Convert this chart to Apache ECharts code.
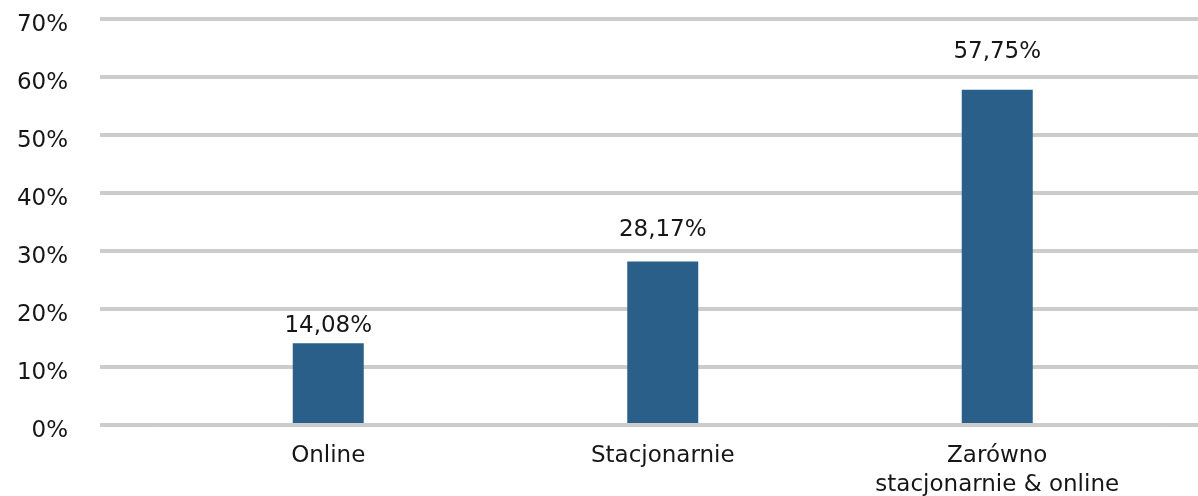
<!DOCTYPE html>
<html>
<head>
<meta charset="utf-8">
<script src="https://cdn.jsdelivr.net/npm/echarts@6/dist/echarts.min.js"></script>
<style>
  html, body { margin: 0; padding: 0; background: #ffffff; }
  #chart { width: 1198px; height: 496px; }
</style>
</head>
<body>
<div id="chart"></div>
<script>
// Share of respondents by form of participation
const categories = ['Online', 'Stacjonarnie', 'Zarówno\nstacjonarnie & online'];
const values = [14.08, 28.17, 57.75];
const yTicks = { min: 0, max: 70, interval: 10 };

// gap between each bar top and its value label (px)
const labelGaps = [6, 20, 26];

const FONT = 'DejaVu Sans';
const TEXT = '#161616';
const GRID_GREY = '#cccccc';
const BAR_BLUE = '#2a5f8a';
const FONT_SIZE = 23;

const pct = v => String(v).replace('.', ',') + '%';

const chart = echarts.init(document.getElementById('chart'), null, { renderer: 'canvas' });

chart.setOption({
  animation: false,
  backgroundColor: '#ffffff',
  textStyle: { fontFamily: FONT, color: TEXT },
  grid: [
    // wide grid carrying the horizontal rules and percentage ticks
    { left: 100, right: 0, top: 18.7, bottom: 71, outerBoundsMode: 'none', containLabel: false },
    // narrower grid holding the bars and category labels
    { left: 161, right: 33.5, top: 18.7, bottom: 71, outerBoundsMode: 'none', containLabel: false }
  ],
  xAxis: [
    { gridIndex: 0, type: 'value', show: false, min: 0, max: 1 },
    {
      gridIndex: 1,
      type: 'category',
      data: categories,
      z: 5,
      axisLine: { show: true, lineStyle: { color: GRID_GREY, width: 4 } },
      axisTick: { show: false },
      axisLabel: {
        margin: 17,
        fontFamily: FONT,
        fontSize: FONT_SIZE,
        color: TEXT,
        lineHeight: 29,
        interval: 0
      }
    }
  ],
  yAxis: [
    {
      gridIndex: 0,
      type: 'value',
      min: yTicks.min,
      max: yTicks.max,
      interval: yTicks.interval,
      axisLine: { show: false },
      axisTick: { show: false },
      splitLine: { show: true, lineStyle: { color: GRID_GREY, width: 4 } },
      axisLabel: {
        margin: 32,
        formatter: v => '{t|' + v + '%}',
        rich: {
          t: {
            fontFamily: FONT,
            fontSize: FONT_SIZE,
            color: TEXT,
            padding: [13, 0, 0, 0]
          }
        }
      }
    },
    {
      gridIndex: 1,
      type: 'value',
      min: yTicks.min,
      max: yTicks.max,
      interval: yTicks.interval,
      show: false,
      splitLine: { show: false }
    }
  ],
  series: [
    {
      type: 'bar',
      xAxisIndex: 1,
      yAxisIndex: 1,
      data: values.map((v, i) => ({ value: v, label: { distance: labelGaps[i] } })),
      barWidth: 71,
      itemStyle: { color: BAR_BLUE },
      label: {
        show: true,
        position: 'top',
        fontFamily: FONT,
        fontSize: FONT_SIZE,
        color: TEXT,
        formatter: p => pct(p.value)
      }
    }
  ]
});
</script>
</body>
</html>
